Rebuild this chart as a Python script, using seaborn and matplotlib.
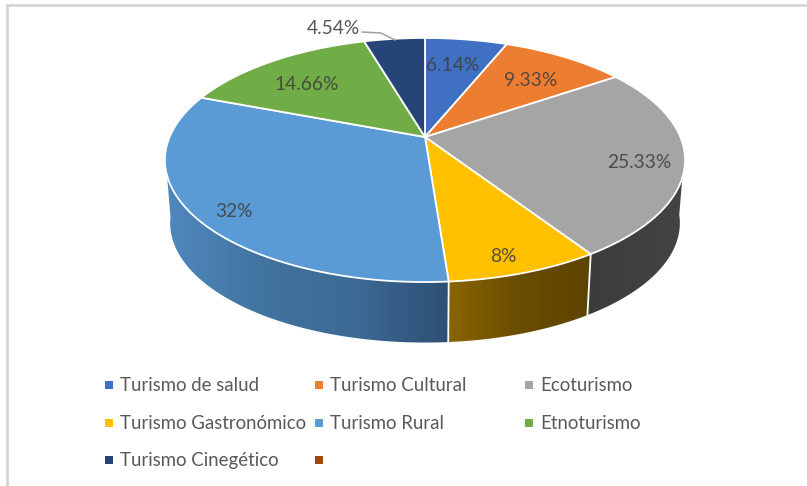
import numpy as np
import matplotlib
matplotlib.use('Agg')
import matplotlib.pyplot as plt
from matplotlib.colors import LinearSegmentedColormap
from matplotlib.patches import Polygon
import seaborn as sns

categories = ['Turismo de salud', 'Turismo Cultural', 'Ecoturismo',
              'Turismo Gastronómico', 'Turismo Rural', 'Etnoturismo',
              'Turismo Cinegético']
values = [6.14, 9.33, 25.33, 8, 32, 14.66, 4.54]
value_labels = ['6.14%', '9.33%', '25.33%', '8%', '32%', '14.66%', '4.54%']
legend_labels = categories + ['']
colors = ['#3F70C2', '#ED7D31', '#A5A5A5', '#FFC000', '#5B9BD5', '#70AD47', '#264478', '#9E480E']

sns.set_theme(style='white')
plt.rcParams['font.family'] = ['Lato', 'DejaVu Sans']
palette = sns.color_palette(colors)

# pie drawn in pixel sized data coords, tilted with a perspective map
cx, cy = 425, 137
a, b, k = 255.4, 117.7, 0.1885
depth_cy, depth_s = 200.4, 0.98


def project(t, s=1.0, y0=cy):
    x = np.sin(t)
    y = np.cos(t)
    w = 1 + k * y
    return cx + s * a * x / w, y0 - s * b * y / w


fig = plt.figure(figsize=(8.07, 4.86), dpi=100)
ax = fig.add_axes([0, 0, 1, 1])
ax.set_xlim(0, 807)
ax.set_ylim(486, 0)
ax.axis('off')

edges = np.radians(np.cumsum([0] + values) * 3.6)

# chart border
ax.plot([7, 7, 807], [486, 5, 5], color='#d6d6d6', lw=2, solid_joinstyle='miter')

# side walls, only the front part of the rim shows
walls = {
    2: ['#3c3c3c', '#444444'],
    3: ['#8a6400', '#6a4d00', '#5c4300'],
    4: ['#5088bf', '#41749f', '#3c6a94', '#2e4f76'],
}
for i, shades in walls.items():
    t0, t1 = edges[i], edges[i + 1]
    if i == 2:
        t0 = np.radians(97)
    if i == 4:
        t1 = np.radians(262)
    t = np.linspace(t0, t1, 120)
    xt, yt = project(t)
    xb, yb = project(t, depth_s, depth_cy)
    pts = np.column_stack([np.r_[xt, xb[::-1]], np.r_[yt, yb[::-1]]])
    poly = Polygon(pts, closed=True, fc='none', ec='none')
    ax.add_patch(poly)
    x0, x1 = pts[:, 0].min(), pts[:, 0].max()
    cmap = LinearSegmentedColormap.from_list('w', shades)
    im = ax.imshow(np.linspace(0, 1, 256)[None, :], extent=[x0, x1, pts[:, 1].max(), pts[:, 1].min()],
                   cmap=cmap, aspect='auto', zorder=2)
    im.set_clip_path(poly)
ax.set_xlim(0, 807)
ax.set_ylim(486, 0)

# white seams on the wall
for t in [edges[3], edges[4]]:
    xt, yt = project(t)
    xb, yb = project(t, depth_s, depth_cy)
    ax.plot([xt, xb], [yt, yb], color='white', lw=1.3, zorder=3)

# top face
for i in range(len(values)):
    t = np.linspace(edges[i], edges[i + 1], 100)
    xs, ys = project(t)
    ax.fill(np.r_[cx, xs], np.r_[cy, ys], facecolor=palette[i], edgecolor='white',
            lw=1.3, joinstyle='round', zorder=4)

# value labels
label_pos = [(453, 65.5), (531, 80), (639, 162), (503, 256.5), (234, 211.5), (307, 84), (333, 29)]
for txt, (lx, ly) in zip(value_labels, label_pos):
    ax.text(lx, ly, txt, ha='center', va='center', fontsize=13.8, color='#404040', alpha=0.88, zorder=6)
ax.plot([362, 381, 395], [32, 33, 40], color='#a0a0a0', lw=1.1, zorder=6)

# legend
col_x = [109, 319, 529]
row_y = [385, 423, 460]
for i, name in enumerate(legend_labels):
    lx = col_x[i % 3]
    ly = row_y[i // 3]
    ax.scatter([lx], [ly], marker='s', s=30, color=palette[i], linewidths=0, zorder=6)
    if name:
        ax.text(lx + 11.5, ly, name, ha='left', va='center', fontsize=13.4, color='#595959', zorder=6)

fig.savefig('out.png', dpi=100)
